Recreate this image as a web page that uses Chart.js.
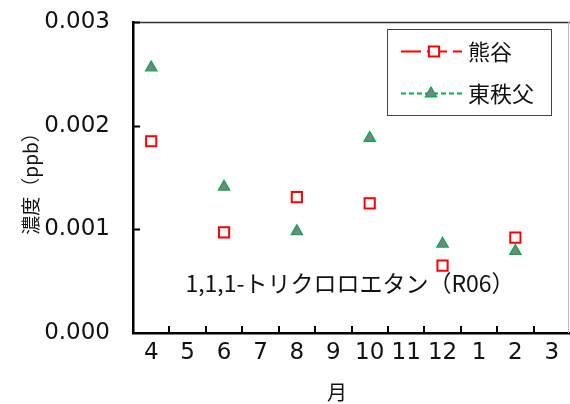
<!DOCTYPE html>
<html>
<head>
<meta charset="utf-8">
<script src="https://cdn.jsdelivr.net/npm/chart.js@4/dist/chart.umd.min.js"></script>
<style>
  html, body { margin: 0; padding: 0; background: #fff; }
  #wrap { width: 570px; height: 404px; position: relative; }
</style>
</head>
<body>
<div id="wrap"><canvas id="c" width="570" height="404"></canvas></div>
<script>
// Monthly sampling (April → March); bimonthly measurements
const months = ['4', '5', '6', '7', '8', '9', '10', '11', '12', '1', '2', '3'];
const kumagaya = [0.00185, null, 0.00097, null, 0.00131, null, 0.00125, null, 0.00065, null, 0.00092, null];
const higashichichibu = [0.00256, null, 0.00141, null, 0.00098, null, 0.00188, null, 0.00086, null, 0.00079, null];
const yTicks = [0, 0.001, 0.002, 0.003];
const seriesNames = ['熊谷', '東秩父'];
const chartTitle = '1,1,1-トリクロロエタン（R06）';
const yTitle = '濃度（ppb）';
const xTitle = '月';

const FONT = '"Noto Sans CJK JP", "Noto Sans", sans-serif';
const NUM_FONT = '"DejaVu Sans", sans-serif';

// Axis frame, inward tick marks, captions and the boxed legend
const decorations = {
  id: 'decorations',
  beforeDatasetsDraw(chart) {
    const { ctx } = chart;
    ctx.save();
    ctx.fillStyle = '#111';
    ctx.font = '23px ' + FONT;
    ctx.textAlign = 'center';
    ctx.textBaseline = 'middle';
    ctx.fillText(chartTitle, 350, 283);
    ctx.restore();
  },
  afterDraw(chart) {
    const { ctx, chartArea: a, scales: { x, y } } = chart;
    ctx.save();
    // top and right frame
    ctx.strokeStyle = '#333';
    ctx.lineWidth = 1.5;
    ctx.beginPath();
    ctx.moveTo(a.left, a.top + 0.5);
    ctx.lineTo(a.right, a.top + 0.5);
    ctx.stroke();
    ctx.strokeStyle = '#bbb';
    ctx.lineWidth = 1;
    ctx.beginPath();
    ctx.moveTo(a.right - 1.5, a.top);
    ctx.lineTo(a.right - 1.5, a.bottom);
    ctx.stroke();

    // inward tick marks
    ctx.strokeStyle = '#000';
    ctx.lineWidth = 2;
    ctx.beginPath();
    yTicks.forEach(v => {
      if (v === 0) return;
      const py = Math.round(y.getPixelForValue(v)) + 0.5;
      ctx.moveTo(a.left, py);
      ctx.lineTo(a.left + 7, py);
    });
    for (let i = 1; i < months.length; i++) {
      const px = Math.round((x.getPixelForTick(i - 1) + x.getPixelForTick(i)) / 2);
      ctx.moveTo(px, a.bottom);
      ctx.lineTo(px, a.bottom - 7);
    }
    ctx.stroke();

    // axis titles
    ctx.fillStyle = '#111';
    ctx.textAlign = 'center';
    ctx.textBaseline = 'middle';
    ctx.font = '20px ' + FONT;
    ctx.fillText(xTitle, 337, 392);
    ctx.save();
    ctx.translate(31, 179);
    ctx.rotate(-Math.PI / 2);
    ctx.font = '19px ' + FONT;
    ctx.fillText(yTitle, 0, 0);
    ctx.restore();

    // legend box
    const bx = 387, by = 29, bw = 164, bh = 86;
    ctx.fillStyle = '#fff';
    ctx.fillRect(bx, by, bw, bh);
    ctx.strokeStyle = '#444';
    ctx.lineWidth = 1;
    ctx.strokeRect(bx + 0.5, by + 0.5, bw, bh);
    const rows = [51.5, 93.5];
    chart.data.datasets.forEach((ds, i) => {
      const ly = rows[i];
      ctx.save();
      ctx.strokeStyle = ds.borderColor;
      ctx.lineWidth = 2;
      ctx.setLineDash(ds.legendDash);
      ctx.beginPath();
      ctx.moveTo(401, ly);
      ctx.lineTo(462, ly);
      ctx.stroke();
      ctx.restore();
      ctx.save();
      ctx.fillStyle = ds.pointBackgroundColor;
      ctx.strokeStyle = ds.pointBorderColor;
      ctx.lineWidth = ds.pointBorderWidth;
      Chart.helpers.drawPoint(ctx, {
        pointStyle: ds.pointStyle,
        radius: ds.pointRadius,
        borderWidth: ds.pointBorderWidth,
        rotation: 0
      }, i === 0 ? 434 : 431, ly);
      ctx.restore();
      ctx.fillStyle = '#111';
      ctx.font = '22px ' + FONT;
      ctx.textAlign = 'left';
      ctx.textBaseline = 'middle';
      ctx.fillText(ds.label, 468, ly);
    });
    ctx.restore();
  }
};

new Chart(document.getElementById('c'), {
  type: 'line',
  data: {
    labels: months,
    datasets: [
      {
        label: seriesNames[0],
        data: kumagaya,
        showLine: false,
        borderColor: '#ff0000',
        pointStyle: 'rect',
        pointRadius: 7.2,
        pointHoverRadius: 7.2,
        pointBorderWidth: 2,
        pointBackgroundColor: '#ffffff',
        pointBorderColor: '#ff0000',
        legendDash: [20, 6]
      },
      {
        label: seriesNames[1],
        data: higashichichibu,
        showLine: false,
        borderColor: '#00b050',
        pointStyle: 'triangle',
        pointRadius: 6.5,
        pointHoverRadius: 6.5,
        pointBorderWidth: 1.3,
        pointBackgroundColor: '#808080',
        pointBorderColor: '#00b050',
        legendDash: [5, 3]
      }
    ]
  },
  options: {
    responsive: false,
    devicePixelRatio: 1,
    animation: false,
    events: [],
    layout: { autoPadding: false, padding: { top: 22, right: 0, left: 0, bottom: 0 } },
    plugins: { legend: { display: false }, tooltip: { enabled: false } },
    scales: {
      x: {
        type: 'category',
        offset: true,
        grid: { display: false, drawTicks: false, offset: true },
        border: { display: true, color: '#000', width: 2.5 },
        ticks: {
          color: '#111',
          font: { family: NUM_FONT, size: 23 },
          padding: 6,
          maxRotation: 0,
          autoSkip: false
        },
        afterFit(scale) {
          scale.height = 71;
          scale.paddingLeft = 0;
          scale.paddingRight = 0;
        }
      },
      y: {
        min: 0,
        max: 0.003,
        afterBuildTicks(scale) { scale.ticks = yTicks.map(v => ({ value: v })); },
        grid: { display: false, drawTicks: false },
        border: { display: true, color: '#000', width: 2.5 },
        ticks: {
          color: '#111',
          font: { family: NUM_FONT, size: 23 },
          padding: 23,
          callback: v => v.toFixed(3)
        },
        afterFit(scale) {
          scale.width = 133;
          scale.paddingTop = 0;
          scale.paddingBottom = 0;
        }
      }
    }
  },
  plugins: [decorations]
});
</script>
</body>
</html>
